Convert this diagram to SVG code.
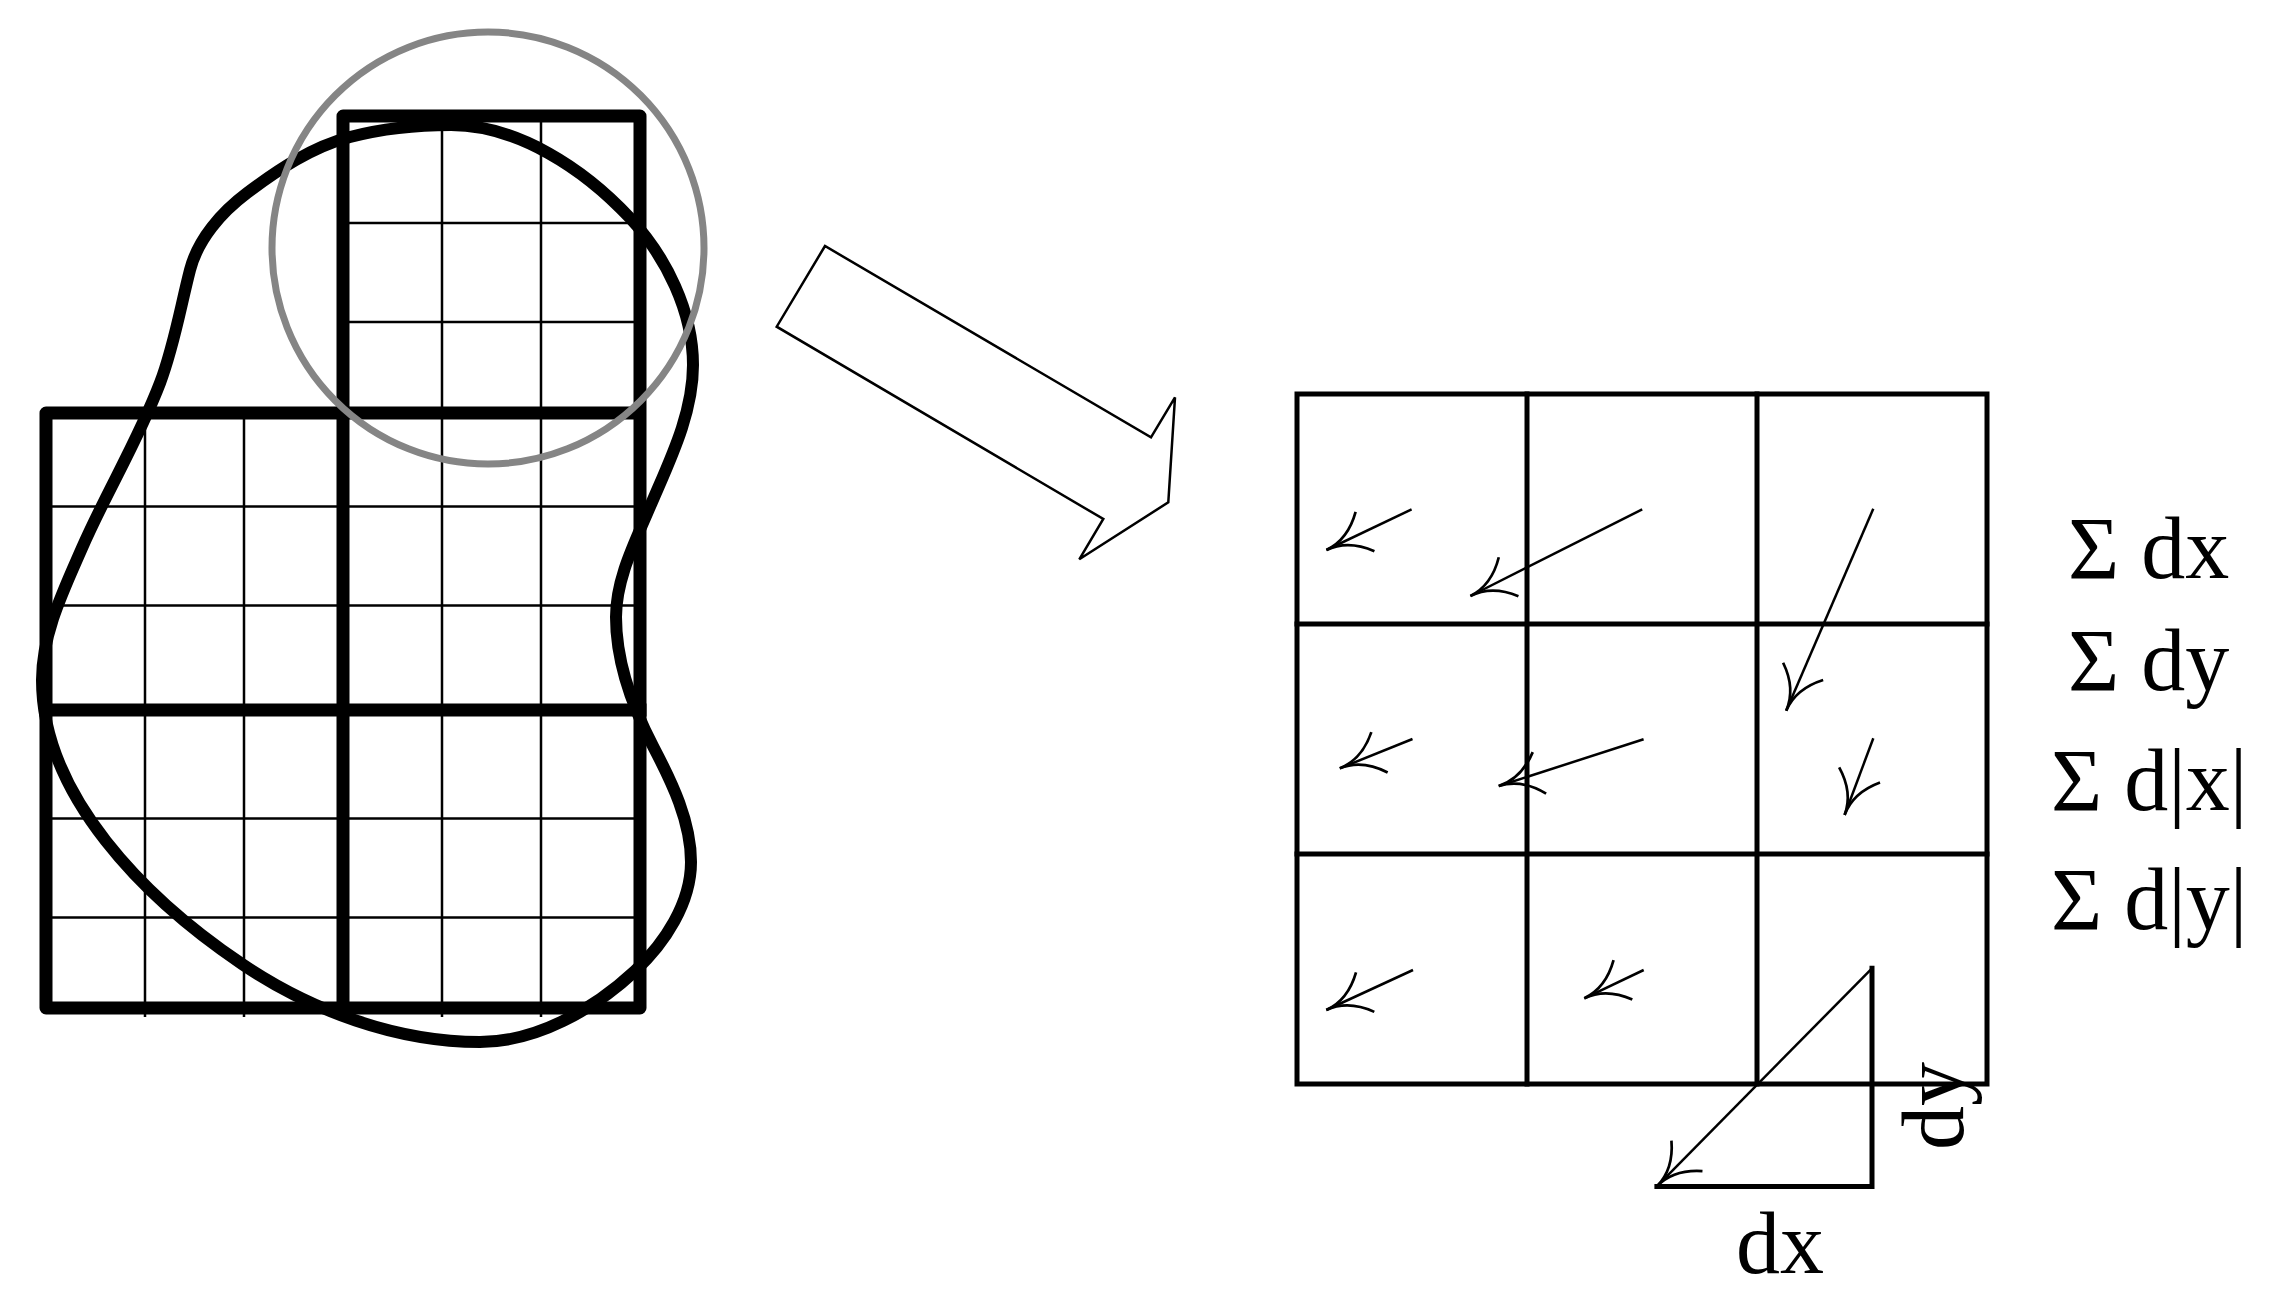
<svg xmlns="http://www.w3.org/2000/svg" width="2275" height="1311" viewBox="0 0 2275 1311">
<defs>
<style>
.thin{stroke:#000;stroke-width:2.5;fill:none}
.thick{stroke:#000;stroke-width:13;fill:none;stroke-linejoin:round;stroke-linecap:square}
.blob{stroke:#000;stroke-width:12;fill:none}
.grid{stroke:#000;stroke-width:5;fill:none;stroke-linecap:square}
.vec{stroke:#000;stroke-width:2.5;fill:none;marker-end:url(#ah)}
.lbl{font-family:"Liberation Serif","Times New Roman",serif;font-size:88px;fill:#000}
</style>
<marker id="ah" markerUnits="userSpaceOnUse" markerWidth="100" markerHeight="100" refX="0" refY="0" orient="auto" overflow="visible">
<path d="M-42.8,-21.8 Q-24,0 0,0 Q-24,0 -42.8,21.8" fill="none" stroke="#000" stroke-width="2.7"/>
</marker>
</defs>
<rect width="2275" height="1311" fill="#fff"/>

<g id="left-grid">
<g id="fine-lines">
<line class="thin" x1="145" y1="413" x2="145" y2="1017"/>
<line class="thin" x1="244" y1="413" x2="244" y2="1017"/>
<line class="thin" x1="442" y1="116" x2="442" y2="1017"/>
<line class="thin" x1="541" y1="116" x2="541" y2="1017"/>
<line class="thin" x1="343" y1="223" x2="640" y2="223"/>
<line class="thin" x1="343" y1="322" x2="640" y2="322"/>
<line class="thin" x1="46" y1="506.5" x2="640" y2="506.5"/>
<line class="thin" x1="46" y1="605.5" x2="640" y2="605.5"/>
<line class="thin" x1="46" y1="818.5" x2="640" y2="818.5"/>
<line class="thin" x1="46" y1="917.5" x2="640" y2="917.5"/>
</g>
<g id="coarse-lines">
<path class="thick" d="M343,413 V116 H640 V1008 H46 V413 H640"/>
<line class="thick" x1="343" y1="413" x2="343" y2="1008"/>
<line class="thick" x1="46" y1="710" x2="640" y2="710"/>
</g>
</g>

<g id="blob">
<path class="blob" d="M451,125 C518,125 584.4,169.1 630,218 C666.2,256.9 693,311.7 693,365 C693,414.4 669.3,461.3 650,506.7 C635,542.1 616,578.5 616,617 C616,662 632.4,706.9 653.3,746.7 C672.1,782.5 691,821.6 691,862 C691,903 664.9,943.1 635,971 C593.5,1009.6 536.8,1042 480,1042 C396.5,1042 311.3,1010.8 242,964 C145.9,899.2 42,795.8 42,680 C42,634 63.6,590.1 82,548 C106.3,492.3 138.4,439.8 160,383 C173.9,346.6 180.3,307.8 190,270 C198,239 221.4,212.2 247,193 C278.2,169.6 312.2,146.8 350,137 C382.8,128.5 417.1,125 451,125 Z"/>
</g>

<g id="window">
<circle cx="488" cy="248" r="216" fill="none" stroke="#858585" stroke-width="7"/>
</g>

<g id="big-arrow">
<polygon points="825,246 776.7,326.7 1103.3,519 1079.3,559.3 1168.3,502.3 1175,397.3 1151,437.3" fill="#fff" stroke="#000" stroke-width="2.5" stroke-linejoin="miter"/>
</g>

<g id="right-grid">
<rect class="grid" x="1297" y="394" width="690" height="690"/>
<line class="grid" x1="1527" y1="394" x2="1527" y2="1084"/>
<line class="grid" x1="1757" y1="394" x2="1757" y2="1084"/>
<line class="grid" x1="1297" y1="624" x2="1987" y2="624"/>
<line class="grid" x1="1297" y1="854" x2="1987" y2="854"/>
</g>

<g id="connectors">
<line class="vec" x1="1411.6" y1="509.3" x2="1326.4" y2="550"/>
<line class="vec" x1="1642.2" y1="509.3" x2="1470.4" y2="596"/>
<line class="vec" x1="1873.3" y1="508.7" x2="1786.2" y2="710.7"/>
<line class="vec" x1="1412.5" y1="739" x2="1339.8" y2="768.3"/>
<line class="vec" x1="1643.6" y1="739.3" x2="1498.7" y2="786"/>
<line class="vec" x1="1873.3" y1="738.3" x2="1844.6" y2="815"/>
<line class="vec" x1="1413" y1="970" x2="1326.3" y2="1010"/>
<line class="vec" x1="1643.7" y1="970" x2="1584.3" y2="998.3"/>
<line class="vec" x1="1872" y1="968.3" x2="1656.9" y2="1186.3"/>
</g>

<g id="triangle">
<path class="grid" d="M1872,968.3 V1186.5 H1656.9" stroke-linejoin="miter"/>
</g>

<g id="labels">
<text class="lbl" x="1736" y="1273">dx</text>
<text class="lbl" transform="translate(1963,1150) rotate(-90)">dy</text>
<text class="lbl" x="2068" y="578">Σ dx</text>
<text class="lbl" x="2068" y="690">Σ dy</text>
<text class="lbl" x="2051" y="810">Σ d|x|</text>
<text class="lbl" x="2051" y="929">Σ d|y|</text>
</g>
</svg>
